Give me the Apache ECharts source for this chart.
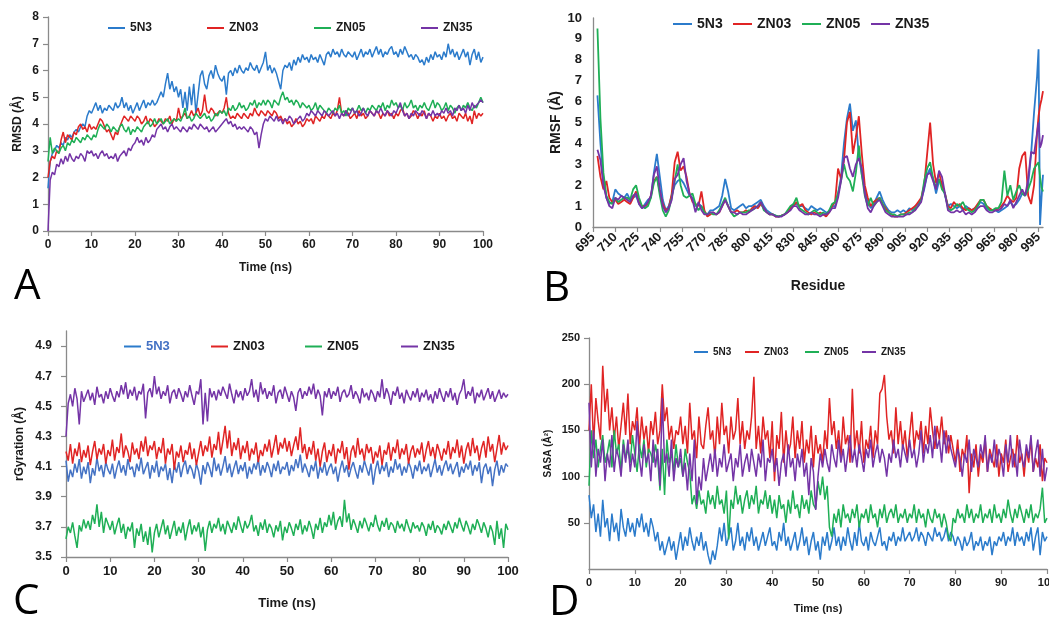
<!DOCTYPE html>
<html><head><meta charset="utf-8">
<script src="https://cdn.jsdelivr.net/npm/echarts@6/dist/echarts.min.js"></script>
<style>html,body{margin:0;padding:0;background:#fff}#c{width:1049px;height:618px}</style>
</head><body><div id="c"></div>
<script>
const seriesNames = ['5N3','ZN03','ZN05','ZN35'];
const colors = ['#2B7BCB','#E02424','#1FAF56','#7434A6'];
const timeNs = Array.from({length:201},(_,i)=>i*0.5);

// ---- Panel A: RMSD (Å) ----
const rmsd_5N3 = [
1.6,2.6,2.9,3.0,3.2,3.1,3.3,3.2,3.5,3.4, 3.6,3.5,3.7,3.8,3.7,3.9,4.0,3.9,4.3,4.5,
4.4,4.6,4.8,4.5,4.7,4.4,4.6,4.5,4.7,4.6, 4.5,4.8,4.6,4.7,5.0,4.6,4.8,4.5,4.7,4.4,
4.6,4.8,4.5,4.7,4.9,4.6,4.8,4.7,4.9,4.7, 4.8,5.0,5.2,5.0,5.5,5.9,5.3,5.6,5.2,5.4,
5.0,5.3,4.6,5.2,4.5,5.4,4.7,5.5,4.4,5.1, 5.8,6.0,5.5,5.3,5.8,6.0,5.7,6.2,5.9,5.7,
5.6,5.8,5.1,5.9,6.0,5.8,6.1,5.9,6.2,6.0, 5.9,6.1,6.0,6.3,6.1,6.0,6.2,5.9,6.1,6.3,
6.7,6.0,6.2,5.9,6.1,5.9,5.6,5.3,6.0,6.2, 6.1,6.3,6.0,6.4,6.2,6.5,6.3,6.6,6.4,6.5,
6.3,6.6,6.4,6.5,6.3,6.6,6.4,6.2,6.6,6.7, 6.5,6.8,6.6,6.7,6.5,6.8,6.6,6.5,6.7,6.6,
6.5,6.7,6.4,6.6,6.8,6.5,6.7,6.6,6.8,6.5, 6.7,6.9,6.6,6.8,6.5,6.7,6.6,6.8,6.9,6.6,
6.7,6.5,6.8,6.6,6.9,6.7,6.5,6.6,6.4,6.6, 6.5,6.3,6.4,6.2,6.5,6.3,6.6,6.4,6.7,6.5,
6.6,6.4,6.7,6.5,7.0,6.6,6.8,6.5,6.7,6.4, 6.6,6.8,6.5,6.7,6.2,6.6,6.8,6.4,6.7,6.3,
6.5];
const rmsd_ZN03 = [
2.0,2.6,2.8,2.7,3.0,2.9,3.4,3.7,3.3,3.6, 3.5,3.4,3.7,3.6,3.9,4.0,3.8,3.9,3.7,4.0,
3.8,3.9,3.8,4.0,4.2,4.1,3.9,3.7,3.8,3.6, 3.4,3.7,3.6,3.9,4.1,4.3,4.2,4.1,4.3,4.2,
4.1,4.3,4.2,4.0,4.1,4.3,4.0,4.2,4.1,3.9, 4.0,4.2,4.1,4.0,4.2,4.1,4.3,4.0,4.2,4.1,
4.6,4.2,4.3,4.4,4.2,4.3,4.5,4.3,4.4,4.6, 4.3,4.5,5.1,4.5,4.4,4.6,4.5,4.3,4.4,4.5,
4.4,4.6,5.0,4.4,4.2,4.3,4.2,4.4,4.3,4.2, 4.4,4.3,4.2,4.4,4.3,4.6,4.4,4.3,4.5,4.4,
4.3,4.5,4.4,4.3,4.5,4.4,4.2,4.3,4.1,4.2, 4.0,4.1,3.9,4.0,4.2,4.0,4.1,3.9,4.0,4.2,
4.1,4.2,4.0,4.3,4.2,4.1,4.3,4.2,4.4,4.3, 4.2,4.4,4.3,4.5,5.0,4.4,4.3,4.5,4.4,4.2,
4.3,4.4,4.2,4.5,4.3,4.4,4.2,4.3,4.5,4.4, 4.3,4.5,4.4,4.2,4.4,4.3,4.5,4.3,4.4,4.2,
4.4,4.3,4.5,4.6,4.3,4.4,4.2,4.3,4.5,4.4, 4.2,4.4,4.3,4.5,4.2,4.4,4.3,4.1,4.3,4.2,
4.4,4.2,4.3,4.1,4.3,4.4,4.2,4.3,4.1,4.4, 4.3,4.2,4.4,4.1,4.3,4.0,4.5,4.2,4.4,4.3,
4.4];
const rmsd_ZN05 = [
2.6,3.5,2.9,3.1,3.0,2.9,3.1,3.2,3.0,3.3, 3.2,3.4,3.3,3.5,3.4,3.3,3.5,3.4,3.6,3.5,
3.4,3.6,3.5,3.8,4.0,3.9,3.8,4.0,3.9,3.7, 3.9,3.8,3.7,3.9,4.0,3.8,3.7,3.9,3.6,3.8,
3.7,3.9,3.8,3.7,3.9,4.0,4.1,3.9,4.0,4.2, 4.0,4.1,4.2,4.0,4.1,4.2,4.0,4.1,4.2,4.1,
4.2,4.1,4.3,4.6,4.2,4.3,4.1,4.2,4.4,4.3, 4.2,4.3,4.4,4.2,4.3,4.1,4.2,4.4,4.3,4.5,
4.4,4.5,4.3,4.6,4.5,4.7,4.5,4.6,4.8,4.6, 4.7,4.5,4.6,4.8,4.7,4.9,4.6,4.8,4.7,4.9,
4.7,4.9,4.8,4.6,4.9,4.8,4.7,5.0,5.2,4.9, 5.0,4.8,4.9,4.7,4.9,4.8,4.6,4.8,4.7,4.6,
4.7,4.5,4.6,4.8,4.5,4.7,4.6,4.5,4.4,4.6, 4.5,4.4,4.6,4.5,4.7,4.4,4.5,4.3,4.6,4.5,
4.6,4.4,4.5,4.7,4.5,4.6,4.4,4.6,4.5,4.7, 4.6,4.5,4.7,4.6,4.8,4.5,4.7,4.6,4.9,4.7,
4.8,4.6,4.7,4.5,4.8,4.6,4.7,4.9,4.6,4.7, 4.5,4.7,4.6,4.8,4.6,4.5,4.7,4.9,4.6,4.8,
4.7,4.5,4.6,4.8,4.5,4.7,4.6,4.4,4.6,4.7, 4.5,4.7,4.6,4.8,4.6,4.5,4.7,4.6,4.8,5.0,
4.8];
const rmsd_ZN35 = [
0.0,1.9,2.2,2.1,2.5,2.4,2.7,2.5,2.8,2.6, 2.9,2.7,2.6,2.8,2.7,2.9,2.8,2.6,3.0,2.9,
3.0,2.8,2.9,2.7,2.9,3.0,2.8,2.9,2.7,2.8, 2.7,2.9,2.6,2.8,2.9,3.0,2.8,3.1,3.0,3.2,
3.3,3.5,3.3,3.4,3.2,3.5,3.3,3.4,3.6,3.5, 3.8,3.9,4.0,3.8,3.9,3.7,3.9,4.0,3.8,3.9,
3.8,3.7,3.9,3.8,3.7,3.9,3.8,4.0,3.9,3.8, 4.0,3.9,3.8,3.9,3.7,3.8,3.9,3.7,3.8,3.9,
4.0,4.1,4.2,4.0,4.1,3.9,4.0,3.8,3.9,3.8, 3.9,3.8,3.7,3.9,3.8,3.6,3.7,3.1,3.6,4.0,
4.2,4.1,4.3,4.2,4.1,4.3,4.1,4.2,4.0,4.2, 4.1,4.3,4.2,4.0,4.1,4.2,4.3,4.1,4.2,4.4,
4.3,4.5,4.4,4.3,4.5,4.4,4.3,4.5,4.4,4.3, 4.4,4.5,4.3,4.4,4.2,4.4,4.3,4.5,4.3,4.4,
4.6,4.4,4.5,4.3,4.4,4.6,4.4,4.3,4.5,4.4, 4.3,4.5,4.4,4.6,4.4,4.3,4.5,4.4,4.3,4.5,
4.4,4.6,4.8,4.5,4.3,4.4,4.2,4.4,4.3,4.5, 4.4,4.3,4.5,4.4,4.2,4.4,4.3,4.5,4.3,4.4,
4.3,4.5,4.4,4.6,4.4,4.5,4.3,4.6,4.5,4.7, 4.5,4.6,4.4,4.7,4.5,4.8,4.6,4.7,4.8,4.9,
4.8];

// ---- Panel B: RMSF (Å) per residue ----
const residues = [];
for (let r = 698; r <= 994; r += 2) residues.push(r);
residues.push(995, 996, 997, 998);
const rmsf_5N3 = [
6.3,4.0,2.3,1.4,1.1,1.2,1.8,1.6,1.5,1.4,
1.6,1.3,1.4,1.5,1.1,0.9,1.1,1.3,1.4,2.6,
3.5,2.4,1.3,0.8,1.0,1.5,2.0,2.2,2.3,2.1,
1.8,1.5,1.4,1.0,1.1,1.0,0.7,0.6,0.8,0.8,
0.9,1.0,1.5,2.3,1.7,0.9,0.8,0.9,1.0,1.1,
0.9,1.0,1.0,1.1,1.2,1.3,1.0,0.8,0.7,0.6,
0.55,0.5,0.55,0.6,0.7,0.9,1.1,1.1,1.0,1.0,
0.9,0.8,1.0,0.9,0.8,0.9,0.8,0.7,0.7,1.0,
1.0,1.6,2.4,4.0,5.2,5.9,4.6,5.1,3.4,2.5,
1.8,1.2,0.9,1.1,1.4,1.7,1.3,1.0,0.8,0.7,
0.7,0.8,0.7,0.8,0.7,0.9,0.8,1.0,1.1,1.3,
1.8,2.5,2.8,2.3,1.6,2.2,2.1,1.5,1.0,1.1,
1.0,0.9,1.0,0.8,1.0,0.9,0.8,0.9,1.0,1.2,
1.1,0.9,0.8,0.8,0.8,0.7,0.8,0.9,1.0,1.2,
1.0,1.1,1.3,1.6,1.5,2.0,3.5,5.5,7.2,8.5,0.1,1.4,2.5];
const rmsf_ZN03 = [
3.4,2.4,1.8,2.2,1.4,1.2,1.3,1.1,1.2,1.3,
1.2,1.1,1.4,1.7,1.2,1.0,1.0,1.1,1.5,2.2,
2.4,1.7,1.1,0.8,0.9,1.6,3.1,3.6,2.7,2.9,
2.4,1.6,1.2,1.1,1.0,1.7,0.8,0.5,0.6,0.7,
0.6,0.7,1.0,1.3,1.0,0.7,0.7,0.8,0.7,0.7,
0.8,0.7,0.9,1.0,0.9,1.1,0.9,0.7,0.6,0.6,
0.5,0.5,0.55,0.6,0.7,0.9,1.0,1.2,1.0,1.1,
0.8,0.7,0.6,0.7,0.6,0.7,0.6,0.5,0.7,1.0,
1.2,2.8,2.3,3.2,5.0,5.5,3.5,4.3,5.3,3.5,
2.0,1.4,1.0,1.2,1.3,1.4,1.1,0.9,0.7,0.6,
0.5,0.5,0.6,0.6,0.7,0.8,0.9,1.0,1.2,1.4,
2.0,3.5,5.0,3.0,2.1,2.6,2.0,1.6,1.0,0.9,
1.2,1.0,1.1,0.9,0.8,0.9,0.8,0.9,1.1,1.3,
1.3,1.0,0.9,0.8,0.8,0.9,1.0,1.2,1.5,1.3,
1.2,1.4,2.8,3.4,3.6,1.5,1.1,2.0,4.5,5.3,5.8,6.1,6.5];
const rmsf_ZN05 = [
9.5,5.2,2.6,1.5,1.2,1.1,1.4,1.2,1.3,1.4,
1.4,1.3,1.8,2.0,1.4,1.0,0.9,1.0,1.4,2.1,
2.4,1.5,0.8,0.5,0.8,1.4,2.2,3.0,2.0,1.5,
1.4,1.5,1.6,1.1,0.8,1.0,0.7,0.6,0.7,0.6,
0.6,0.8,1.1,1.4,1.0,0.7,0.5,0.6,0.7,0.7,
0.7,0.8,0.8,0.9,1.0,1.2,0.8,0.7,0.6,0.6,
0.55,0.5,0.55,0.6,0.8,1.0,1.1,1.4,0.9,0.8,
0.7,0.6,0.7,0.8,0.7,0.6,0.7,0.6,0.8,1.1,
1.2,1.6,2.2,3.0,2.4,2.2,1.7,2.6,3.9,2.5,
1.5,1.0,1.4,1.0,1.2,1.4,1.1,0.8,0.7,0.6,
0.6,0.5,0.6,0.6,0.6,0.7,0.7,0.9,1.0,1.3,
2.2,2.8,3.1,2.3,1.9,2.3,1.8,1.6,0.9,0.8,
0.9,1.1,1.0,1.2,0.9,0.8,0.7,0.8,1.0,1.3,
1.3,1.0,0.8,0.8,0.9,0.9,1.2,2.7,1.5,2.0,
1.3,1.7,2.0,1.6,1.5,1.8,2.2,2.8,3.0,3.1,2.4,1.9,1.7];
const rmsf_ZN35 = [
3.7,3.2,2.0,1.4,1.0,0.9,1.4,1.3,1.5,1.4,
1.3,1.2,1.5,1.6,1.1,0.9,1.0,1.2,1.5,2.5,
2.9,1.8,1.0,0.7,0.9,1.3,2.3,2.5,3.0,3.3,
2.2,1.6,1.3,0.7,1.2,0.8,0.6,0.6,0.7,0.7,
0.6,0.7,1.0,1.3,1.0,0.7,0.7,0.6,0.7,0.6,
0.6,0.7,0.8,0.9,1.0,1.2,0.9,0.7,0.6,0.6,
0.5,0.5,0.5,0.6,0.7,0.8,1.0,1.0,0.8,0.7,
0.6,0.6,0.7,0.6,0.6,0.5,0.6,0.6,0.7,0.9,
0.9,1.4,2.2,3.3,3.4,2.8,2.4,3.0,3.3,2.8,
1.6,0.9,0.7,1.0,1.2,1.3,1.0,0.7,0.6,0.5,
0.5,0.5,0.5,0.5,0.6,0.6,0.7,0.8,1.0,1.2,
1.9,2.5,2.6,2.2,1.8,2.7,2.4,1.6,0.8,0.7,
0.7,0.8,0.7,0.8,0.6,0.7,0.6,0.7,0.9,1.0,
1.0,0.8,0.7,0.7,0.8,0.8,0.9,1.1,1.0,1.3,
0.9,1.2,1.5,1.8,1.5,2.3,3.6,3.5,4.5,5.0,3.8,4.0,4.4];

// ---- Panel C: rGyration (Å) ----
const rg_5N3 = [
4.14,4.00,4.08,4.03,4.12,4.06,4.15,4.02,4.10,4.05, 4.13,3.99,4.09,4.04,4.16,4.07,4.11,4.03,4.13,4.08,
4.05,4.12,4.02,4.09,4.14,4.06,4.11,4.04,4.15,4.08, 4.10,4.03,4.12,4.07,4.16,4.05,4.09,4.13,4.02,4.11,
4.06,4.14,4.03,4.10,4.07,4.12,4.01,4.09,3.99,4.11, 4.06,4.13,4.03,4.10,4.14,4.05,4.11,4.08,4.02,4.12,
4.07,3.98,4.11,4.05,4.13,4.09,4.03,4.16,4.07,4.12, 4.04,4.10,4.17,4.06,4.12,4.03,4.09,4.14,4.05,4.11,
4.07,4.13,4.02,4.10,4.05,4.12,4.08,4.15,4.04,4.11, 4.06,4.13,4.09,4.03,4.12,4.07,4.14,4.05,4.10,4.08,
4.13,4.04,4.11,4.07,4.15,4.09,4.18,4.06,4.12,4.08, 4.03,4.11,4.07,4.14,4.02,4.10,4.06,4.13,4.04,4.09,
4.12,4.05,4.10,4.00,4.08,4.14,4.06,4.11,4.03,4.09, 4.13,4.07,4.02,4.11,4.06,4.14,4.09,4.04,4.12,3.98,
4.08,4.14,4.05,4.11,4.07,4.13,4.03,4.10,4.06,4.15, 4.08,4.12,4.04,4.10,4.06,4.13,4.09,4.02,4.11,4.07,
4.14,4.05,4.10,4.07,4.12,4.03,4.09,4.15,4.06,4.11, 4.04,4.10,4.14,4.07,4.12,4.05,4.09,4.13,4.03,4.10,
4.06,4.12,4.08,4.14,4.04,4.11,4.07,4.13,3.99,4.09, 4.12,4.05,4.10,3.97,4.08,4.14,4.04,4.11,4.06,4.12,
4.10];
const rg_ZN03 = [
4.20,4.14,4.25,4.12,4.22,4.17,4.26,4.13,4.21,4.16, 4.24,4.11,4.20,4.27,4.15,4.22,4.18,4.25,4.12,4.21,
4.17,4.28,4.14,4.23,4.19,4.32,4.16,4.24,4.20,4.13, 4.26,4.18,4.22,4.15,4.27,4.20,4.30,4.17,4.24,4.21,
4.27,4.15,4.23,4.19,4.29,4.12,4.22,4.18,4.25,4.08, 4.20,4.16,4.24,4.13,4.21,4.18,4.26,4.15,4.22,4.11,
4.19,4.27,4.17,4.24,4.20,4.30,4.16,4.25,4.21,4.33, 4.18,4.27,4.37,4.22,4.34,4.17,4.26,4.21,4.29,4.15,
4.24,4.19,4.27,4.14,4.22,4.18,4.26,4.13,4.21,4.17, 4.25,4.20,4.28,4.16,4.23,4.31,4.18,4.26,4.22,4.29,
4.20,4.27,4.17,4.24,4.30,4.21,4.36,4.19,4.25,4.15, 4.23,4.18,4.27,4.14,4.22,4.10,4.20,4.26,4.13,4.21,
4.17,4.25,4.12,4.22,4.19,4.27,4.15,4.23,4.08,4.20, 4.24,4.16,4.29,4.18,4.22,4.14,4.25,4.19,4.23,4.12,
4.20,4.16,4.24,4.11,4.21,4.18,4.26,4.14,4.23,4.19, 4.28,4.15,4.22,4.18,4.25,4.12,4.20,4.24,4.16,4.22,
4.18,4.26,4.13,4.21,4.27,4.17,4.23,4.15,4.25,4.20, 4.14,4.22,4.18,4.27,4.15,4.23,4.19,4.28,4.16,4.24,
4.12,4.21,4.26,4.17,4.29,4.19,4.24,4.14,4.22,4.27, 4.16,4.30,4.20,4.25,4.13,4.22,4.31,4.18,4.26,4.21,
4.24];
const rg_ZN05 = [
3.62,3.70,3.66,3.73,3.64,3.56,3.71,3.67,3.75,3.69, 3.74,3.68,3.78,3.72,3.85,3.70,3.80,3.66,3.76,3.72,
3.68,3.74,3.65,3.71,3.76,3.66,3.72,3.62,3.70,3.67, 3.73,3.56,3.69,3.64,3.72,3.60,3.67,3.58,3.70,3.53,
3.66,3.72,3.63,3.69,3.75,3.65,3.71,3.62,3.68,3.74, 3.64,3.70,3.66,3.73,3.61,3.69,3.75,3.65,3.71,3.67,
3.73,3.63,3.70,3.54,3.68,3.74,3.66,3.72,3.69,3.76, 3.67,3.72,3.65,3.74,3.70,3.66,3.73,3.68,3.77,3.71,
3.66,3.74,3.69,3.72,3.78,3.67,3.71,3.64,3.73,3.68, 3.75,3.66,3.72,3.69,3.63,3.71,3.67,3.74,3.61,3.70,
3.66,3.73,3.69,3.64,3.72,3.68,3.75,3.65,3.71,3.67, 3.74,3.69,3.62,3.72,3.68,3.76,3.66,3.73,3.70,3.78,
3.71,3.80,3.68,3.74,3.77,3.70,3.88,3.73,3.79,3.68, 3.75,3.71,3.66,3.74,3.69,3.76,3.72,3.67,3.73,3.70,
3.78,3.71,3.67,3.74,3.70,3.76,3.68,3.73,3.71,3.66, 3.74,3.69,3.72,3.67,3.75,3.70,3.66,3.73,3.69,3.71,
3.67,3.73,3.70,3.64,3.72,3.68,3.74,3.66,3.71,3.69, 3.65,3.72,3.68,3.74,3.70,3.66,3.73,3.69,3.76,3.71,
3.67,3.74,3.70,3.65,3.72,3.68,3.75,3.71,3.66,3.73, 3.69,3.63,3.71,3.67,3.58,3.74,3.62,3.69,3.56,3.72,
3.68];
const rg_ZN35 = [
4.30,4.52,4.58,4.50,4.62,4.55,4.38,4.60,4.53,4.57, 4.61,4.54,4.59,4.51,4.63,4.56,4.58,4.52,4.60,4.55,
4.62,4.57,4.53,4.60,4.56,4.64,4.58,4.66,4.55,4.61, 4.57,4.63,4.54,4.60,4.58,4.65,4.42,4.59,4.62,4.56,
4.70,4.58,4.63,4.55,4.60,4.57,4.64,4.52,4.59,4.61, 4.55,4.62,4.58,4.53,4.60,4.56,4.64,4.57,4.51,4.60,
4.58,4.68,4.38,4.59,4.40,4.62,4.56,4.60,4.54,4.61, 4.57,4.63,4.59,4.55,4.65,4.58,4.52,4.61,4.56,4.60,
4.54,4.62,4.57,4.60,4.68,4.56,4.61,4.53,4.66,4.58, 4.62,4.55,4.60,4.57,4.64,4.52,4.59,4.61,4.55,4.63,
4.58,4.53,4.60,4.56,4.47,4.59,4.62,4.55,4.60,4.57, 4.63,4.58,4.65,4.55,4.61,4.57,4.44,4.60,4.56,4.62,
4.55,4.60,4.57,4.63,4.53,4.59,4.61,4.56,4.58,4.64, 4.55,4.60,4.57,4.52,4.62,4.56,4.59,4.54,4.61,4.58,
4.53,4.60,4.56,4.68,4.55,4.62,4.58,4.51,4.60,4.57, 4.63,4.55,4.59,4.52,4.61,4.57,4.54,4.60,4.56,4.62,
4.53,4.59,4.56,4.61,4.54,4.58,4.52,4.60,4.55,4.62, 4.57,4.53,4.60,4.56,4.62,4.54,4.59,4.51,4.58,4.61,
4.68,4.55,4.60,4.57,4.63,4.52,4.59,4.56,4.61,4.54, 4.58,4.62,4.55,4.60,4.53,4.57,4.61,4.55,4.59,4.56,
4.58];

// ---- Panel D: SASA (Å²) ----
const sasa_5N3 = [
80,55,70,40,60,35,75,45,55,30, 60,40,50,30,65,45,35,55,40,50,
35,55,45,60,40,50,35,55,45,30, 40,20,30,15,25,35,20,30,10,25,
40,20,35,25,45,30,20,35,25,40, 20,30,15,5,20,10,25,45,30,50,
25,35,45,20,30,50,25,35,20,40, 30,45,25,35,20,30,40,25,35,45,
25,30,20,40,30,50,25,35,20,30, 40,20,30,45,25,35,15,30,40,20,
30,10,35,25,40,20,30,45,25,35, 20,35,25,45,30,20,40,25,50,30,
25,35,20,40,30,25,35,45,25,30, 20,35,30,40,25,35,30,45,30,35,
40,30,35,45,30,40,35,25,40,35, 30,45,35,40,30,35,45,30,40,35,
25,35,30,20,35,25,30,40,20,30, 25,35,20,30,25,35,15,30,25,35,
30,40,25,35,30,45,25,40,30,35, 25,40,30,45,20,35,45,15,40,30,
35];
const sasa_ZN03 = [
150,200,135,185,160,140,220,170,195,150, 175,140,165,130,155,180,145,190,135,160,
150,175,130,165,140,155,125,160,145,170, 135,150,200,160,175,140,155,130,150,145,
165,135,155,125,180,140,150,120,165,135, 130,155,175,140,150,120,165,135,180,145,
155,125,165,140,150,185,135,160,130,150, 140,165,208,130,155,125,165,140,150,120,
160,95,145,130,170,115,150,125,135,165, 120,150,130,160,115,140,125,155,110,145,
125,135,115,150,130,185,145,160,130,150, 120,165,135,145,115,195,130,150,125,160,
115,140,130,155,120,150,135,190,195,210, 165,140,150,125,175,135,160,130,150,120,
145,170,130,150,140,160,125,155,135,175, 150,130,155,140,165,135,150,125,145,130,
115,140,105,130,120,145,82,125,110,135, 100,125,115,140,105,130,120,110,135,100,
125,115,140,105,120,130,110,145,115,125, 100,130,115,140,105,120,110,135,95,120,
115];
const sasa_ZN05 = [
90,150,120,140,110,130,145,115,125,140, 110,150,125,135,105,140,120,130,115,145,
125,105,135,120,140,110,130,125,115,135, 120,85,130,80,140,115,125,105,135,110,
120,100,130,115,105,70,80,65,85,70, 75,60,85,70,80,65,90,70,75,60,
85,32,75,65,90,70,80,60,75,85, 65,80,70,90,60,75,70,85,65,80,
60,75,55,80,65,70,50,75,60,85, 65,70,55,80,65,75,60,85,70,65,
95,80,100,75,90,45,35,60,50,65, 45,70,55,60,50,65,55,70,45,60,
55,65,50,70,55,60,45,65,55,70, 50,60,65,55,70,50,60,55,65,50,
60,55,70,50,65,55,60,45,65,55, 50,65,55,60,45,60,50,35,30,55,
50,65,55,60,50,70,55,65,50,60, 55,70,50,60,55,65,50,70,55,60,
50,65,55,75,60,50,65,55,70,60, 50,65,55,70,50,60,55,65,88,50,
55];
const sasa_ZN35 = [
180,110,150,100,130,115,140,95,125,110, 145,105,130,120,100,135,115,140,105,125,
110,160,120,100,135,115,125,95,140,110, 130,90,185,115,125,100,140,95,120,110,
130,100,115,85,125,95,140,70,100,85, 120,95,110,125,105,130,100,120,110,135,
105,115,125,95,120,110,135,100,115,125, 105,130,115,100,125,110,140,95,120,115,
130,105,120,90,115,125,100,135,110,120, 95,125,110,130,100,115,80,120,105,64,
100,125,110,130,115,105,135,120,110,140, 115,130,105,125,145,115,130,110,135,120,
105,130,120,140,110,125,135,115,130,120, 100,125,115,140,120,130,110,135,125,115,
140,120,130,110,125,150,115,135,125,145, 120,155,130,140,115,150,125,145,130,120,
110,130,120,100,125,115,140,105,130,120, 110,135,120,145,105,125,115,140,110,130,
120,100,135,115,145,110,125,100,140,120, 110,135,120,145,105,125,140,100,130,95,
110];

// length sanity checks
[rmsd_5N3,rmsd_ZN03,rmsd_ZN05,rmsd_ZN35,rg_5N3,rg_ZN03,rg_ZN05,rg_ZN35,sasa_5N3,sasa_ZN03,sasa_ZN05,sasa_ZN35].forEach((a,k)=>{ if(a.length!==201) throw new Error('time series '+k+' length '+a.length); });
[rmsf_5N3,rmsf_ZN03,rmsf_ZN05,rmsf_ZN35].forEach((a,k)=>{ if(a.length!==residues.length) throw new Error('rmsf '+k+' length '+a.length+' vs '+residues.length); });

const FONT = 'Liberation Sans';
const AXC = '#8a8a8a';
const TXT = '#1a1a1a';

function vAxis(grid, o) {
  return Object.assign({
    type: 'value', gridIndex: grid,
    axisLine: { show: true, lineStyle: { color: AXC, width: 1.3 } },
    axisTick: { show: true, length: 5, lineStyle: { color: AXC, width: 1.2 } },
    splitLine: { show: false },
    nameLocation: 'middle',
    nameTextStyle: { fontFamily: FONT, fontWeight: 'bold', color: TXT, fontSize: 12 },
  }, o);
}
function lbl(fs, extra) {
  return Object.assign({ fontFamily: FONT, fontWeight: 'bold', color: TXT, fontSize: fs }, extra || {});
}

const timeSets = [
  [rmsd_5N3, rmsd_ZN03, rmsd_ZN05, rmsd_ZN35],
  null,
  [rg_5N3, rg_ZN03, rg_ZN05, rg_ZN35],
  [sasa_5N3, sasa_ZN03, sasa_ZN05, sasa_ZN35]
];
const rmsfSet = [rmsf_5N3, rmsf_ZN03, rmsf_ZN05, rmsf_ZN35];

const series = [];
[0, 2, 3].forEach(g => {
  timeSets[g].forEach((vals, k) => {
    series.push({
      type: 'line', name: seriesNames[k], xAxisIndex: g, yAxisIndex: g,
      data: vals.map((v, i) => [timeNs[i], v]),
      showSymbol: false, symbol: 'none',
      lineStyle: { width: 1.5, color: (g === 2 && k === 0) ? '#4472C4' : colors[k] },
      itemStyle: { color: colors[k] },
    });
  });
});
rmsfSet.forEach((vals, k) => {
  series.push({
    type: 'line', name: seriesNames[k], xAxisIndex: 1, yAxisIndex: 1,
    data: vals.map((v, i) => [residues[i], v]),
    showSymbol: false, symbol: 'none',
    lineStyle: { width: 1.8, color: colors[k] },
    itemStyle: { color: colors[k] },
  });
});

function legendRow(lefts, top, fs, w, firstColor) {
  return seriesNames.map((n, k) => ({
    left: lefts[k], top: top, padding: 0, icon: 'rect', itemWidth: w, itemHeight: 2,
    selectedMode: false,
    data: [ (k === 0 && firstColor) ? { name: n, textStyle: { color: firstColor } } : n ],
    textStyle: { fontFamily: FONT, fontWeight: 'bold', fontSize: fs, color: TXT },
  }));
}

const option = {
  animation: false,
  backgroundColor: '#fff',
  grid: [
    { left: 48, top: 17, width: 435, height: 214, outerBoundsMode: 'none', containLabel: false },
    { left: 593, top: 18, width: 450, height: 209, outerBoundsMode: 'none', containLabel: false },
    { left: 66, top: 331, width: 442, height: 226, outerBoundsMode: 'none', containLabel: false },
    { left: 589, top: 338, width: 458, height: 231, outerBoundsMode: 'none', containLabel: false },
  ],
  xAxis: [
    vAxis(0, { min: 0, max: 100, interval: 10, axisLabel: lbl(12, { margin: 8 }),
      name: 'Time (ns)', nameGap: 31, nameTextStyle: lbl(12) }),
    vAxis(1, { min: 695, max: 998, interval: 15,
      axisLabel: lbl(13, { rotate: 45, margin: 8, showMaxLabel: false }),
      name: 'Residue', nameGap: 52, nameTextStyle: lbl(14) }),
    vAxis(2, { min: 0, max: 100, interval: 10, axisLabel: lbl(13, { margin: 8 }),
      name: 'Time (ns)', nameGap: 40, nameTextStyle: lbl(13) }),
    vAxis(3, { min: 0, max: 100, interval: 10, axisLabel: lbl(11, { margin: 8 }),
      name: 'Time (ns)', nameGap: 34, nameTextStyle: lbl(11) }),
  ],
  yAxis: [
    vAxis(0, { min: 0, max: 8, interval: 1, axisLabel: lbl(12, { margin: 9 }),
      name: 'RMSD (Å)', nameGap: 24, nameTextStyle: lbl(12) }),
    vAxis(1, { min: 0, max: 10, interval: 1, axisTick: { show: false },
      axisLabel: lbl(13, { margin: 11 }),
      name: 'RMSF (Å)', nameGap: 26, nameTextStyle: lbl(14) }),
    vAxis(2, { min: 3.5, max: 5.0, interval: 0.2,
      axisLabel: lbl(12, { margin: 14, showMaxLabel: false, formatter: v => v.toFixed(1) }),
      name: 'rGyration (Å)', nameGap: 40, nameTextStyle: lbl(12) }),
    vAxis(3, { min: 0, max: 250, interval: 50,
      axisLabel: lbl(11, { margin: 9, showMinLabel: false }),
      name: 'SASA (Å²)', nameGap: 36, nameTextStyle: lbl(10) }),
  ],
  legend: [].concat(
    legendRow([108, 207, 314, 421], 22, 12, 17),
    legendRow([673, 733, 802, 871], 17, 14, 19),
    legendRow([124, 211, 305, 401], 340, 13, 17, '#4472C4'),
    legendRow([694, 745, 805, 862], 347, 10, 14)
  ),
  graphic: [
    { type: 'text', left: 14, top: 266, style: { text: 'A', fontSize: 42, fontFamily: 'Open Sans', fill: '#000' } },
    { type: 'text', left: 543, top: 268, style: { text: 'B', fontSize: 42, fontFamily: 'Open Sans', fill: '#000' } },
    { type: 'text', left: 13, top: 581, style: { text: 'C', fontSize: 42, fontFamily: 'Open Sans', fill: '#000' } },
    { type: 'text', left: 549, top: 582, style: { text: 'D', fontSize: 42, fontFamily: 'Open Sans', fill: '#000' } },
  ],
  series: series,
};

const chart = echarts.init(document.getElementById('c'), null, { renderer: 'canvas' });
chart.setOption(option);
</script>
</body></html>
